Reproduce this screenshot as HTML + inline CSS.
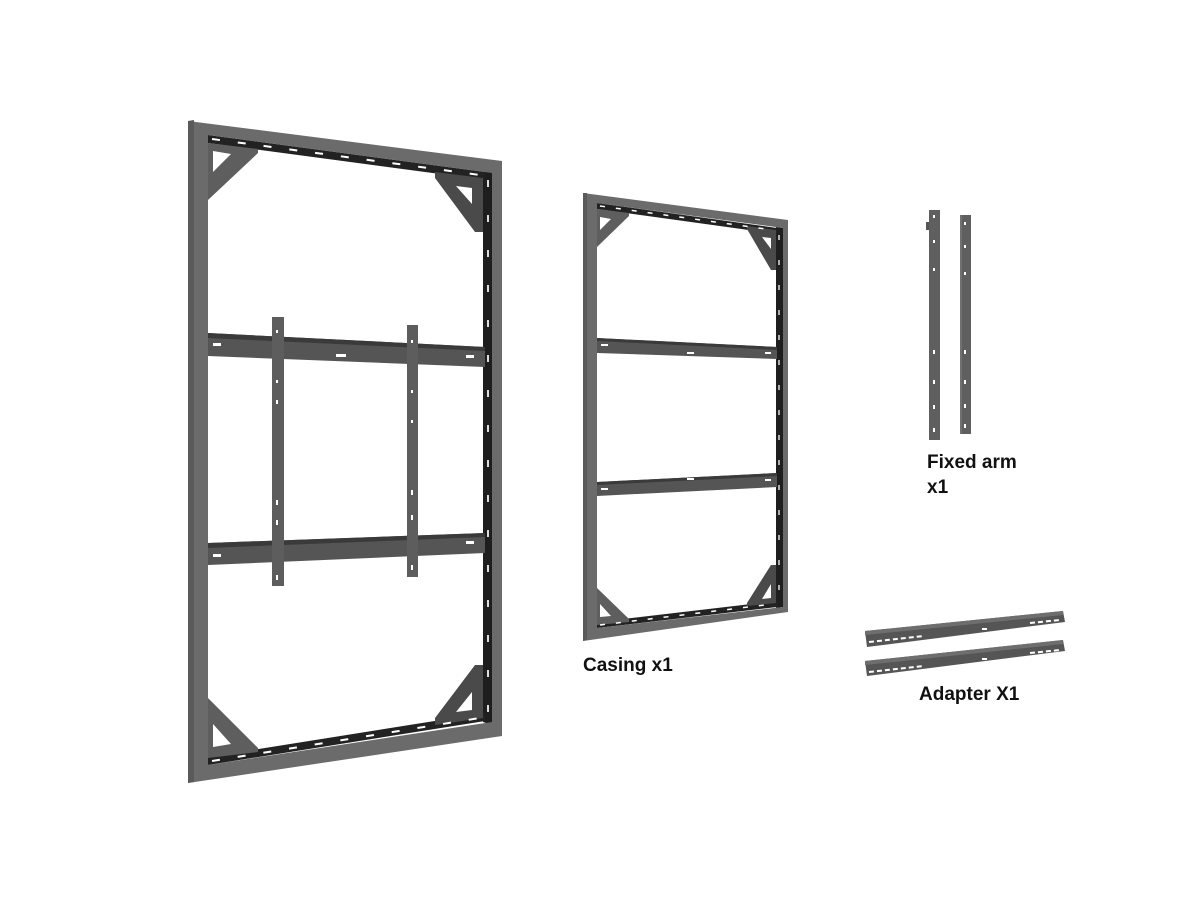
<!DOCTYPE html>
<html><head><meta charset="utf-8"><style>
html,body{margin:0;padding:0;background:#fff;}
svg{display:block}
text{font-family:"Liberation Sans",Arial,sans-serif;font-weight:bold;font-size:19px;fill:#111}
</style></head><body>
<svg width="1200" height="900" viewBox="0 0 1200 900" xmlns="http://www.w3.org/2000/svg">
<!-- ===== Large frame ===== -->
<g>
  <polygon points="483,170 492,172 492,725 483,722" fill="#1e1e1e"/>
  <polygon points="208,135 485,172 485,180 208,143" fill="#222"/>
  <polygon points="208,757 485,713 485,721 208,765" fill="#222"/>
  <path fill-rule="evenodd" fill="#6b6b6b" d="M188,121 L502,161 L502,736 L188,783 Z M208,135 L492,173 L492,722 L208,765 Z"/>
  <polygon points="188,121 194,120 194,782 188,783" fill="#5a5a5a"/>
  <path fill="#5e5e5e" fill-rule="evenodd" d="M208,143 L258,149 L258,153 L208,200 Z M213,151 L231,154 L213,172 Z"/>
  <path fill="#4a4a4a" fill-rule="evenodd" d="M435,172 L483,178 L483,232 L475,232 L435,178 Z M456,186 L472,188 L472,204 Z"/>
  <path fill="#5e5e5e" fill-rule="evenodd" d="M208,698 L258,748 L258,752 L208,758 Z M213,724 L231,744 L213,747 Z"/>
  <path fill="#4a4a4a" fill-rule="evenodd" d="M475,665 L483,665 L483,718 L435,725 L435,718 Z M472,692 L472,710 L456,712 Z"/>
  <polygon points="208,333 485,347 485,367 208,356" fill="#555"/>
  <polygon points="208,333 485,347 485,351 208,338" fill="#3a3a3a"/>
  <polygon points="208,543 485,533 485,553 208,565" fill="#555"/>
  <polygon points="208,543 485,533 485,537 208,548" fill="#3a3a3a"/>
  <rect x="272" y="317" width="12" height="269" fill="#5d5d5d"/>
  <rect x="407" y="325" width="11" height="252" fill="#5d5d5d"/>
  <g fill="#fff">
    <rect x="276" y="330" width="2" height="3"/><rect x="276" y="380" width="2" height="3"/><rect x="276" y="400" width="2" height="4"/><rect x="276" y="500" width="2" height="5"/><rect x="276" y="520" width="2" height="5"/><rect x="276" y="575" width="2" height="5"/>
    <rect x="411" y="340" width="2" height="3"/><rect x="411" y="390" width="2" height="3"/><rect x="411" y="420" width="2" height="3"/><rect x="411" y="490" width="2" height="5"/><rect x="411" y="515" width="2" height="5"/><rect x="411" y="565" width="2" height="5"/>
    <rect x="213" y="343" width="8" height="3"/><rect x="336" y="354" width="10" height="3"/><rect x="466" y="355" width="8" height="3"/>
    <rect x="213" y="554" width="8" height="3"/><rect x="466" y="541" width="8" height="3"/>
  </g>
  <g stroke="#fff" stroke-width="2" stroke-dasharray="8 18">
    <line x1="212" y1="139" x2="480" y2="175"/>
    <line x1="212" y1="761" x2="480" y2="718"/>
  </g>
  <g stroke="#ddd" stroke-width="2" stroke-dasharray="7 28"><line x1="488" y1="180" x2="488" y2="715"/></g>
</g>
<!-- ===== Casing ===== -->
<g>
  <polygon points="776,227 783,228 783,607 776,608" fill="#1e1e1e"/>
  <polygon points="597,203 777,228 777,234 597,209" fill="#222"/>
  <polygon points="597,622 777,601 777,607 597,628" fill="#222"/>
  <path fill-rule="evenodd" fill="#6b6b6b" d="M583,193 L788,220 L788,612 L583,641 Z M597,203 L783,228 L783,607 L597,628 Z"/>
  <polygon points="583,193 587,193 587,640 583,641" fill="#5a5a5a"/>
  <path fill="#5e5e5e" fill-rule="evenodd" d="M597,209 L629,213 L629,216 L597,247 Z M600,217 L611,219 L600,230 Z"/>
  <path fill="#4a4a4a" fill-rule="evenodd" d="M747,226 L776,230 L776,270 L771,270 L747,229 Z M762,237 L771,238 L771,249 Z"/>
  <path fill="#5e5e5e" fill-rule="evenodd" d="M597,588 L629,619 L629,622 L597,625 Z M600,604 L611,616 L600,617 Z"/>
  <path fill="#4a4a4a" fill-rule="evenodd" d="M771,565 L776,565 L776,603 L747,606 L747,603 Z M771,584 L771,598 L762,599 Z"/>
  <polygon points="597,338 777,347 777,359 597,353" fill="#555"/>
  <polygon points="597,338 777,347 777,350 597,341" fill="#3a3a3a"/>
  <polygon points="597,482 777,473 777,487 597,496" fill="#555"/>
  <polygon points="597,482 777,473 777,476 597,485" fill="#3a3a3a"/>
  <g fill="#fff">
    <rect x="601" y="344" width="7" height="2"/><rect x="687" y="352" width="7" height="2"/><rect x="765" y="352" width="6" height="2"/>
    <rect x="601" y="488" width="7" height="2"/><rect x="687" y="478" width="7" height="2"/><rect x="765" y="479" width="6" height="2"/>
  </g>
  <g stroke="#fff" stroke-width="1.5" stroke-dasharray="5 11">
    <line x1="600" y1="206" x2="773" y2="230"/>
    <line x1="600" y1="625" x2="773" y2="604"/>
  </g>
  <g stroke="#ddd" stroke-width="1.5" stroke-dasharray="5 20"><line x1="779" y1="235" x2="779" y2="600"/></g>
</g>
<!-- ===== Fixed arms ===== -->
<g>
  <rect x="929" y="210" width="11" height="230" fill="#5f5f5f"/>
  <rect x="926" y="222" width="3" height="8" fill="#555"/>
  <rect x="960" y="215" width="11" height="219" fill="#5f5f5f"/>
  <rect x="960" y="215" width="2" height="219" fill="#707070"/>
  <g fill="#fff">
    <rect x="933" y="215" width="2" height="3"/><rect x="933" y="240" width="2" height="3"/><rect x="933" y="268" width="2" height="3"/><rect x="933" y="350" width="2" height="4"/><rect x="933" y="380" width="2" height="4"/><rect x="933" y="405" width="2" height="4"/><rect x="933" y="428" width="2" height="4"/>
    <rect x="964" y="222" width="2" height="3"/><rect x="964" y="245" width="2" height="3"/><rect x="964" y="272" width="2" height="3"/><rect x="964" y="350" width="2" height="4"/><rect x="964" y="380" width="2" height="4"/><rect x="964" y="404" width="2" height="4"/><rect x="964" y="424" width="2" height="4"/>
  </g>
</g>
<!-- ===== Adapters ===== -->
<g>
  <polygon points="865,631 1063,611 1065,622 867,647" fill="#555"/>
  <polygon points="865,631 1063,611 1063,615 865,635" fill="#6e6e6e"/>
  <polygon points="865,661 1063,640 1065,651 867,676" fill="#555"/>
  <polygon points="865,661 1063,640 1063,644 865,665" fill="#6e6e6e"/>
  <g stroke="#fff" stroke-width="2" stroke-dasharray="5 3">
    <line x1="869" y1="642" x2="924" y2="636"/>
    <line x1="1030" y1="623" x2="1060" y2="620"/>
    <line x1="869" y1="672" x2="924" y2="666"/>
    <line x1="1030" y1="653" x2="1060" y2="650"/>
  </g>
  <rect x="982" y="628" width="5" height="2" fill="#fff"/>
  <rect x="982" y="658" width="5" height="2" fill="#fff"/>
</g>
<text x="583" y="671">Casing x1</text>
<text x="927" y="468">Fixed arm</text>
<text x="927" y="493">x1</text>
<text x="919" y="700">Adapter X1</text>
</svg>
</body></html>
